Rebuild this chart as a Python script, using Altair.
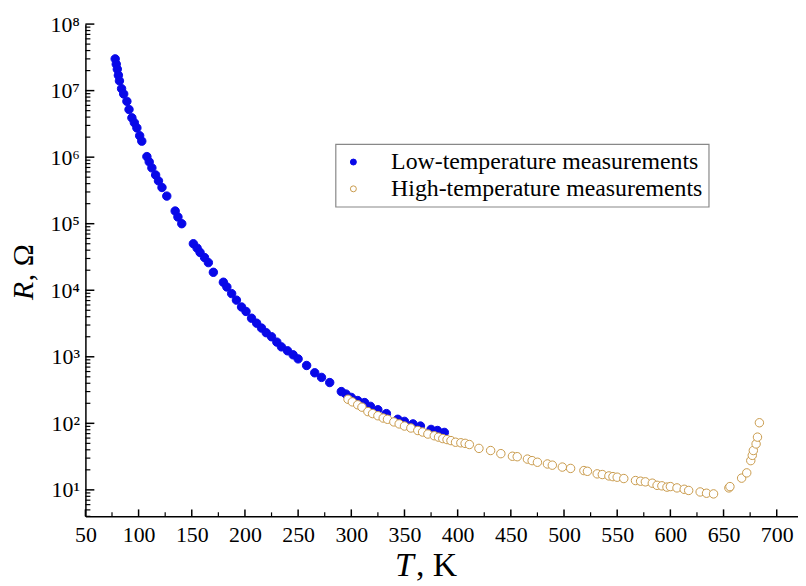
import altair as alt
import pandas as pd

LOW = "Low-temperature measurements"
HIGH = "High-temperature measurements"
BLUE = "#0808e8"
TAN = "#c99a4c"
FONT = "Liberation Serif"

low_T = [78, 79, 80, 81, 82, 84, 86, 89, 91, 93.7, 96, 98.4, 101, 103, 107.8, 110, 112.5,
         116, 118.7, 122, 126.5, 134.4, 137, 140.6, 151.5, 155, 157.8, 162, 165.6, 170.3,
         179.7, 183, 187.5, 192, 196.8, 201, 206.2, 211, 215.6, 220, 225, 230, 234.3, 240,
         245.3, 250, 258, 265.6, 272, 279.7, 290.6, 295, 300, 306, 312.5, 318, 325, 333,
         343.7, 350, 358, 365, 375, 381, 387.5]
low_R = [3.0e7, 2.5e7, 2.1e7, 1.7e7, 1.4e7, 1.07e7, 8.9e6, 6.9e6, 5.2e6, 3.9e6, 3.3e6,
         2.75e6, 2.1e6, 1.74e6, 1.02e6, 8.5e5, 6.9e5, 5.4e5, 4.4e5, 3.5e5, 2.6e5, 1.55e5,
         1.26e5, 1.0e5, 5.0e4, 4.3e4, 3.7e4, 3.1e4, 2.6e4, 1.86e4, 1.32e4, 1.12e4, 8.9e3,
         7.1e3, 5.6e3, 4.8e3, 3.8e3, 3.2e3, 2.7e3, 2.3e3, 2.0e3, 1.66e3, 1.41e3, 1.23e3,
         1.07e3, 930, 740, 575, 490, 410, 300, 275, 245, 220, 205, 180, 160, 140, 115, 107,
         98, 91, 81, 78, 73]

high_T = [296.9, 301, 306, 310, 315.6, 320, 325, 330, 334, 340, 345, 350, 356, 362.5, 367,
          372, 378, 382, 386, 390, 393.7, 398, 403, 407, 411, 420, 431, 440.6, 451.5, 456,
          465.6, 470, 475, 484.4, 489, 498.4, 506.2, 518.7, 522, 531.2, 536, 542.2, 546,
          550, 556.2, 567.2, 572, 576.5, 583, 587.5, 592, 596.8, 600, 606.2, 613, 617.2,
          628, 634, 640.6, 655, 656, 667, 671.8, 675.6, 677, 678, 680.6, 681.9, 683.7]
high_R = [230, 210, 190, 175, 150, 140, 130, 120, 115, 105, 98, 91, 85, 78, 74, 69, 65, 62,
          59, 57, 55, 52, 51, 50, 48, 42, 39, 35, 32, 31.5, 29, 27.5, 26, 24.5, 23.5, 22, 21,
          19.5, 19, 17.4, 17, 16.2, 15.8, 15.5, 14.8, 13.8, 13.5, 13.2, 12.6, 11.7, 11.5, 11,
          11.2, 10.7, 10.2, 9.8, 9.3, 8.9, 8.7, 10.7, 11.2, 15, 18, 27.5, 33, 39, 49, 62, 102]

x_major = [50, 100, 150, 200, 250, 300, 350, 400, 450, 500, 550, 600, 650, 700]
x_minor = [75, 125, 175, 225, 275, 325, 375, 425, 475, 525, 575, 625, 675]
y_major = [1e1, 1e2, 1e3, 1e4, 1e5, 1e6, 1e7, 1e8]
y_minor = [m * 10 ** k for k in range(0, 8) for m in range(2, 10) if m * 10 ** k >= 4]

W, H = 718, 496

df = pd.DataFrame({
    "T": low_T + high_T,
    "R": low_R + high_R,
    "series": [LOW] * len(low_T) + [HIGH] * len(high_T),
})

x_scale = alt.Scale(domain=[50, 720], nice=False, zero=False)
y_scale = alt.Scale(type="log", domain=[4, 1e8], nice=False)

sup = "['\u2070','\u00b9','\u00b2','\u00b3','\u2074','\u2075','\u2076','\u2077','\u2078','\u2079']"
legend = alt.Legend(title=None, orient="none", legendX=252, legendY=121,
                    labelFont=FONT, labelFontSize=24, labelColor="black", labelLimit=600,
                    symbolSize=36, symbolStrokeWidth=1, labelOffset=26,
                    rowPadding=3, padding=6, strokeColor="#888888", symbolType="circle")

x_axis = alt.Axis(values=x_major, title=None, ticks=False, grid=False,
                  labelFlush=False, labelPadding=8, format="d")
y_axis = alt.Axis(values=y_major, title=None, ticks=False, grid=False, labelPadding=6,
                  labelExpr="'10' + " + sup + "[round(log(datum.value)/LN10)]")

points = alt.Chart(df).mark_point(filled=True, size=72, strokeWidth=1, opacity=1).encode(
    x=alt.X("T:Q", scale=x_scale, axis=x_axis),
    y=alt.Y("R:Q", scale=y_scale, axis=y_axis),
    fill=alt.Fill("series:N", scale=alt.Scale(domain=[LOW, HIGH], range=[BLUE, "white"]),
                  legend=legend),
    stroke=alt.Stroke("series:N", scale=alt.Scale(domain=[LOW, HIGH], range=[BLUE, TAN]),
                      legend=legend),
)

ymaj = alt.Chart(pd.DataFrame({"v": y_major})).mark_rule(color="black", strokeWidth=1.5).encode(
    y=alt.Y("v:Q", scale=y_scale, axis=y_axis), x=alt.value(0), x2=alt.value(9))
ymin = alt.Chart(pd.DataFrame({"v": y_minor})).mark_rule(color="black", strokeWidth=1.2).encode(
    y=alt.Y("v:Q", scale=y_scale, axis=y_axis), x=alt.value(0), x2=alt.value(5))
xmaj = alt.Chart(pd.DataFrame({"v": x_major})).mark_rule(color="black", strokeWidth=1.5).encode(
    x=alt.X("v:Q", scale=x_scale, axis=x_axis), y=alt.value(H), y2=alt.value(H - 7))
xmin = alt.Chart(pd.DataFrame({"v": x_minor})).mark_rule(color="black", strokeWidth=1.2).encode(
    x=alt.X("v:Q", scale=x_scale, axis=x_axis), y=alt.value(H), y2=alt.value(H - 4))

one = alt.Data(values=[{"a": 1}])
xt1 = alt.Chart(one).mark_text(font=FONT, fontSize=34, fontStyle="italic", align="left",
                               baseline="alphabetic", color="black").encode(
    x=alt.value(312), y=alt.value(H + 60), text=alt.value("T"))
xt2 = alt.Chart(one).mark_text(font=FONT, fontSize=34, align="left",
                               baseline="alphabetic", color="black").encode(
    x=alt.value(333), y=alt.value(H + 60), text=alt.value(", K"))
yt1 = alt.Chart(one).mark_text(font=FONT, fontSize=30, fontStyle="italic", align="left",
                               baseline="alphabetic", angle=270, color="black").encode(
    x=alt.value(-53), y=alt.value(278), text=alt.value("R"))
yt2 = alt.Chart(one).mark_text(font=FONT, fontSize=30, align="left",
                               baseline="alphabetic", angle=270, color="black").encode(
    x=alt.value(-53), y=alt.value(259), text=alt.value(", \u03a9"))

chart = alt.layer(points, ymin, ymaj, xmin, xmaj, xt1, xt2, yt1, yt2).properties(
    width=W, height=H,
    autosize=alt.AutoSizeParams(type="none"),
    padding={"left": 78, "top": 14, "right": 0, "bottom": 70},
).configure_view(stroke=None).configure_axis(
    labelFont=FONT, labelFontSize=22, labelColor="black",
    domainColor="black", domainWidth=1.5,
).configure_legend(strokeWidth=1.2)

chart.save("out.html", embed_options={"renderer": "svg", "actions": False})
